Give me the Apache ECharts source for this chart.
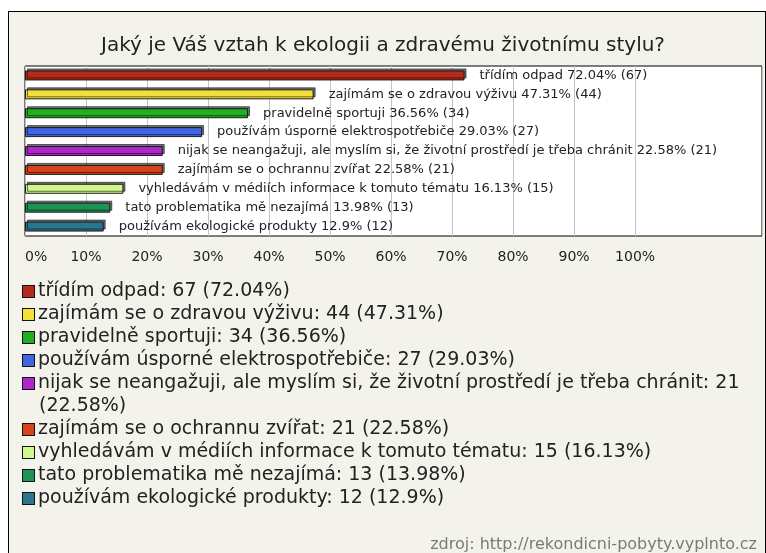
<!DOCTYPE html>
<html>
<head>
<meta charset="utf-8">
<script src="https://cdn.jsdelivr.net/npm/echarts@6/dist/echarts.min.js"></script>
<style>
    html, body { margin: 0; padding: 0; background: #fff; }
    #wrap { position: relative; width: 766px; height: 553px; overflow: hidden; }
    #frame { position: absolute; left: 8px; top: 11px; width: 756px; height: 600px;
             border: 1px solid #000; background: #f4f3eb; }
    #chart { position: absolute; left: 0; top: 0; width: 766px; height: 553px; }
</style>
</head>
<body>
<div id="wrap">
    <div id="frame"></div>
    <div id="chart"></div>
</div>
<script>
'use strict';

var titleText = 'Jaký je Váš vztah k ekologii a zdravému životnímu stylu?';
var sourceText = 'zdroj: http://rekondicni-pobyty.vyplnto.cz';

var categories = [
    'třídím odpad',
    'zajímám se o zdravou výživu',
    'pravidelně sportuji',
    'používám úsporné elektrospotřebiče',
    'nijak se neangažuji, ale myslím si, že životní prostředí je třeba chránit',
    'zajímám se o ochrannu zvířat',
    'vyhledávám v médiích informace k tomuto tématu',
    'tato problematika mě nezajímá',
    'používám ekologické produkty'
];
var counts = [67, 44, 34, 27, 21, 21, 15, 13, 12];
var percents = [72.04, 47.31, 36.56, 29.03, 22.58, 22.58, 16.13, 13.98, 12.9];
var colors = ['#b8291a', '#f4e03a', '#22b022', '#4266e0', '#b126cc',
              '#d9421a', '#cff88c', '#1d9456', '#2a7590'];
var tickMax = 100;

var chart = echarts.init(document.getElementById('chart'));

var font = 'DejaVu Sans';

var rich = {
    t: { fontFamily: font, fontSize: 19, color: '#222', lineHeight: 23 },
    g: { width: 4, height: 11, lineHeight: 23 },
    i: { width: 16, height: 11, lineHeight: 23 }
};
colors.forEach(function(c, k) {
    rich['s' + k] = {
        width: 11, height: 11, backgroundColor: c,
        borderColor: '#111', borderWidth: 1, lineHeight: 23
    };
});

var legendText = function(name) {
    var k = categories.indexOf(name);
    var head = categories[k] + ': ' + counts[k];
    var tail = '(' + percents[k] + '%)';
    var s = '{s' + k + '|}{g|}{t|' + head;
    if ((head + tail).length > 70) {
        return s + '}\n{i|}{t|' + tail + '}';
    }
    return s + ' ' + tail + '}';
};

var series = categories.map(function(name, k) {
    var data = categories.map(function(c, j) {
        return j === k ? percents[k] : '-';
    });
    return {
        name: name,
        type: 'bar',
        stack: 'all',
        barWidth: 10,
        data: data,
        itemStyle: {
            color: colors[k],
            borderColor: '#1a1a1a',
            borderWidth: 1,
            shadowColor: 'rgba(0,0,0,0.55)',
            shadowOffsetX: 2,
            shadowOffsetY: -2,
            shadowBlur: 0
        },
        label: {
            show: true,
            position: 'right',
            distance: 15,
            fontFamily: font,
            fontSize: 13,
            color: '#222',
            formatter: function() {
                return categories[k] + ' ' + percents[k] + '% (' + counts[k] + ')';
            }
        }
    };
});

var splitColors = [];
for (var v = 0; v <= 120; v += 10) {
    splitColors.push(v <= tickMax ? '#c4c4c4' : 'rgba(0,0,0,0)');
}

var option = {
    animation: false,
    title: [{
        text: titleText,
        left: 'center',
        top: 31,
        textStyle: { fontFamily: font, fontSize: 20, fontWeight: 'normal', color: '#222' }
    }, {
        text: sourceText,
        right: 4,
        bottom: -5,
        textStyle: { fontFamily: font, fontSize: 16, fontWeight: 'normal', color: '#7a7a7a' }
    }],
    grid: {
        left: 25,
        right: 4,
        top: 66,
        bottom: 317,
        show: true,
        backgroundColor: '#fff',
        borderColor: '#000',
        borderWidth: 1
    },
    legend: {
        orient: 'vertical',
        left: 13,
        top: 275,
        itemWidth: 0,
        itemHeight: 12,
        itemGap: 0,
        icon: 'rect',
        itemStyle: { borderWidth: 0 },
        selectedMode: false,
        formatter: legendText,
        textStyle: { fontFamily: font, fontSize: 19, lineHeight: 23, rich: rich }
    },
    xAxis: {
        type: 'value',
        min: 0,
        max: 120.8,
        interval: 10,
        axisLine: { show: false },
        axisTick: { show: false },
        axisLabel: {
            margin: 14,
            alignMinLabel: 'left',
            fontFamily: font,
            fontSize: 14,
            color: '#222',
            showMaxLabel: false,
            formatter: function(val) {
                return val <= tickMax ? val + '%' : '';
            }
        },
        splitLine: { show: true, lineStyle: { color: splitColors, width: 1 } }
    },
    yAxis: {
        type: 'category',
        data: categories,
        inverse: true,
        axisLine: { show: false },
        axisTick: { show: false },
        axisLabel: { show: false },
        splitLine: { show: false }
    },
    series: series
};

chart.setOption(option);
</script>
</body>
</html>
